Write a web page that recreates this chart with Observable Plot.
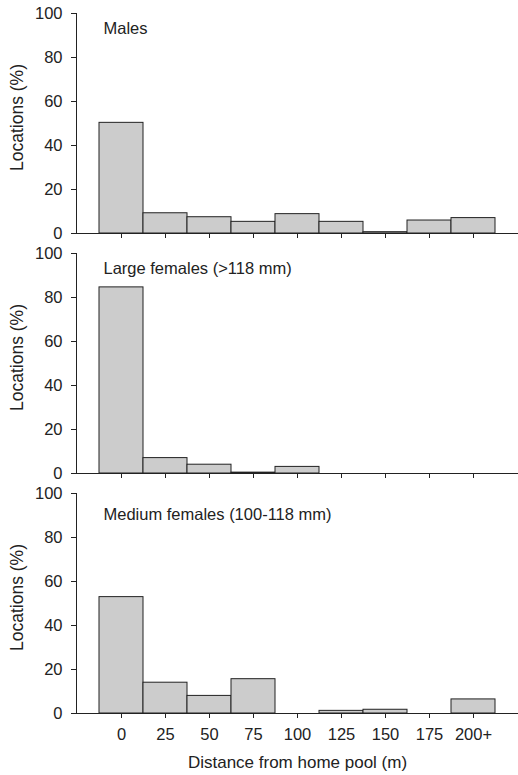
<!DOCTYPE html>
<html>
<head>
<meta charset="utf-8">
<script src="https://cdn.jsdelivr.net/npm/d3@7"></script>
<script src="https://cdn.jsdelivr.net/npm/@observablehq/plot@0.6"></script>
<style>
  html, body { margin: 0; padding: 0; background: #fff; }
  #chart { width: 518px; height: 775px; }
  #chart svg { display: block; }
</style>
</head>
<body>
<div id="chart"></div>
<script>
const distances = ["0", "25", "50", "75", "100", "125", "150", "175", "200+"];
const males = [50.3, 9.2, 7.4, 5.3, 8.8, 5.3, 0.6, 5.9, 7.0];
const largeFemales = [84.6, 7.0, 4.0, 0.4, 3.0, 0, 0, 0, 0];
const mediumFemales = [52.9, 14.0, 8.0, 15.6, 0, 1.2, 1.7, 0, 6.4];
const panelTitles = ["Males", "Large females (>118 mm)", "Medium females (100-118 mm)"];
const yTicks = [0, 20, 40, 60, 80, 100];
const yLabel = "Locations (%)";
const xLabel = "Distance from home pool (m)";

const FONT = "'Liberation Sans', Arial, Helvetica, sans-serif";
const INK = "#222";

function panel(values, title, isLast, titleDy) {
  const data = distances.map((d, i) => ({d, v: values[i]}));
  const marks = [
    Plot.barY(data, {x: "d", y: "v", fill: "#cccccc", stroke: INK, strokeWidth: 1, filter: (d) => d.v > 0}),
    Plot.ruleY([0], {stroke: INK, strokeWidth: 1}),
    Plot.frame({anchor: "left", stroke: INK}),
    Plot.axisY({ticks: yTicks, tickSize: 5, tickPadding: 9, stroke: INK, label: null}),
    Plot.axisX({tickSize: 5, tickPadding: 10, stroke: INK,
      tickFormat: isLast ? (d) => d : () => "", label: null}),
    Plot.text([yLabel], {frameAnchor: "left", dx: -59, dy: -6, rotate: -90, textAnchor: "middle", lineAnchor: "middle", fontSize: 17.5, fill: INK}),
    Plot.text([title], {frameAnchor: "top-left", dx: 27, dy: titleDy, lineAnchor: "middle", textAnchor: "start", fill: INK})
  ];
  if (isLast) {
    marks.push(Plot.text([xLabel], {frameAnchor: "bottom", dy: 49, lineAnchor: "middle", fontSize: 17, fill: INK}));
  }
  return Plot.plot({
    width: 518,
    height: isLast ? 295 : 240,
    marginLeft: 76,
    marginRight: 0,
    marginTop: 13,
    marginBottom: isLast ? 62 : 7,
    style: {fontFamily: FONT, fontSize: "16.5px", color: INK, background: "#fff", overflow: "visible"},
    x: {type: "band", domain: distances, paddingInner: 0, paddingOuter: 0.5},
    y: {domain: [0, 100]},
    marks
  });
}

const chart = document.getElementById("chart");
chart.appendChild(panel(males, panelTitles[0], false, 15));
chart.appendChild(panel(largeFemales, panelTitles[1], false, 15));
chart.appendChild(panel(mediumFemales, panelTitles[2], true, 21));
</script>
</body>
</html>
